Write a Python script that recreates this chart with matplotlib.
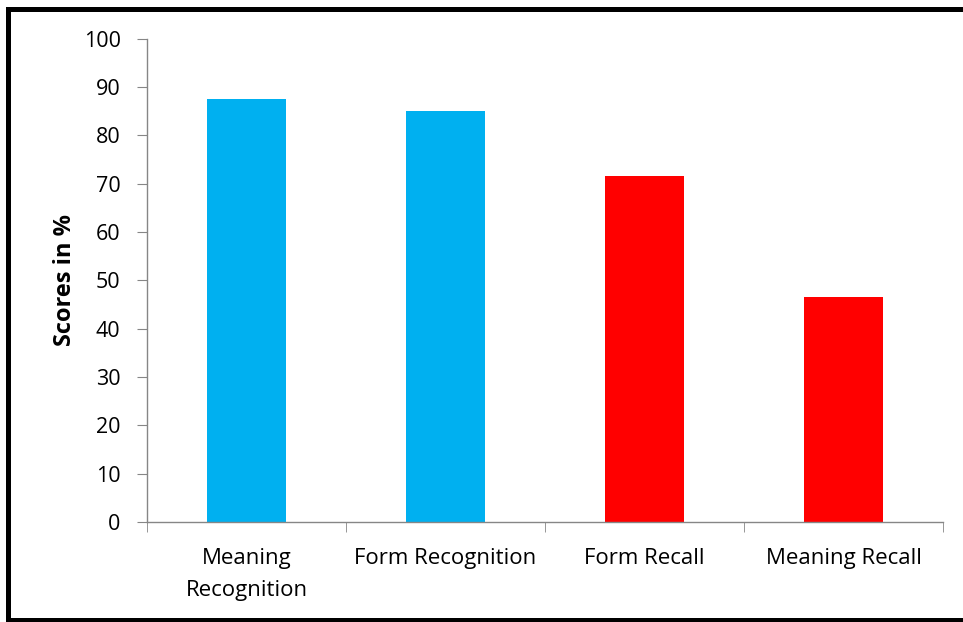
import matplotlib
matplotlib.use('Agg')
import matplotlib.pyplot as plt
from matplotlib.lines import Line2D

# ---------------------
# Data
# ---------------------
categories = ['Meaning\nRecognition', 'Form Recognition', 'Form Recall', 'Meaning Recall']
scores = [87.5, 85.0, 71.5, 46.5]
colors = ['#00B0F0', '#00B0F0', '#FF0000', '#FF0000']
yticks = list(range(0, 101, 10))

plt.rcParams['font.family'] = ['Open Sans', 'DejaVu Sans']
axis_grey = '#868686'

fig = plt.figure(figsize=(9.63, 6.22), dpi=100)
ax = fig.add_axes([147/963, 1 - 522/622, (943 - 147)/963, (522 - 38.5)/622])

xs = list(range(len(categories)))
ax.bar(xs, scores, width=0.4, color=colors)

ax.set_xlim(-0.5, len(categories) - 0.5)
ax.set_ylim(0, 100)
ax.set_yticks(yticks)
ax.set_yticklabels([str(t) for t in yticks], fontsize=15.5)

# category labels centred, ticks on the category boundaries
ax.set_xticks(xs)
ax.set_xticklabels(categories, fontsize=16, linespacing=1.65)
ax.set_xticks([x - 0.5 for x in range(len(categories) + 1)], minor=True)
ax.tick_params(axis='x', which='major', length=0, pad=19)
ax.tick_params(axis='x', which='minor', length=7, color=axis_grey, direction='out')
ax.tick_params(axis='y', length=7, color=axis_grey, direction='out', pad=12)

for side in ['top', 'right']:
    ax.spines[side].set_visible(False)
for side in ['left', 'bottom']:
    ax.spines[side].set_color(axis_grey)
    ax.spines[side].set_linewidth(1.0)

ax.set_ylabel('Scores in %', fontsize=17, fontweight='bold', labelpad=5)

# black frame around the picture (right edge is cropped off)
W, H = 963, 622
lw = 3.6
fig.add_artist(Line2D([7.5/W, 1.0], [1 - 9/H, 1 - 9/H], color='black', lw=lw, transform=fig.transFigure))
fig.add_artist(Line2D([7.5/W, 7.5/W], [1 - 9/H, 1 - 620/H], color='black', lw=lw, transform=fig.transFigure))
fig.add_artist(Line2D([7.5/W, 1.0], [1 - 620/H, 1 - 620/H], color='black', lw=lw, transform=fig.transFigure))

fig.savefig('out.png', dpi=100)
